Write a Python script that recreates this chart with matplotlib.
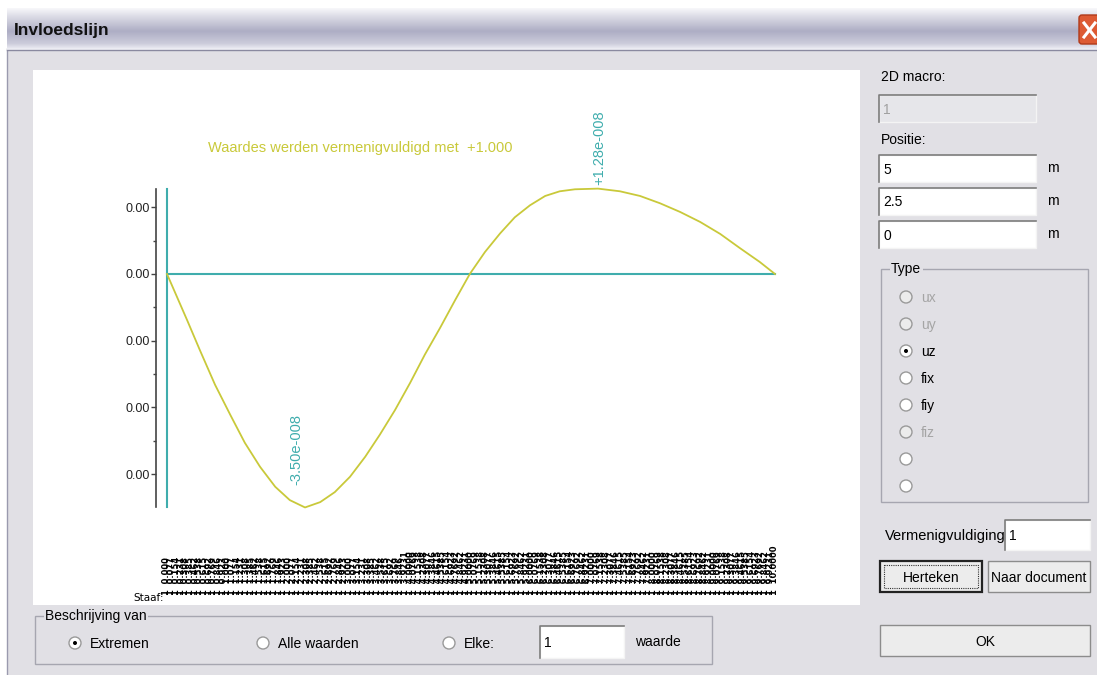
import numpy as np
import matplotlib.pyplot as plt
from matplotlib.patches import Rectangle, Circle, FancyBboxPatch
from matplotlib.ticker import FixedLocator, FuncFormatter

plt.rcParams['font.family'] = ['Liberation Sans', 'DejaVu Sans']

# influence line uz along the member: position (m) and value (x 1e-8)
beam_x = [0, 0.33, 0.54, 0.79, 1.04, 1.28, 1.53, 1.78, 2.02, 2.27, 2.52, 2.76, 3.01, 3.26,
          3.50, 3.75, 4.00, 4.24, 4.49, 4.74, 4.98, 5.23, 5.48, 5.72, 5.97, 6.22, 6.46, 6.71,
          7.09, 7.45, 7.78, 8.11, 8.44, 8.77, 9.10, 9.42, 9.75, 10.0]
uz_e8 = [0, -0.69, -1.14, -1.66, -2.11, -2.53, -2.89, -3.19, -3.39, -3.50, -3.42, -3.27,
         -3.04, -2.74, -2.41, -2.04, -1.63, -1.21, -0.81, -0.39, 0, 0.33, 0.61, 0.85, 1.03,
         1.17, 1.24, 1.27, 1.28, 1.24, 1.17, 1.06, 0.93, 0.78, 0.60, 0.39, 0.18, 0]
factor = 1.000
n_labels = 131      # station labels along the member
split_at = 51       # second block of labels is one character longer
staaf_nr = 1

positie = ['5', '2.5', '0']
type_options = ['ux', 'uy', 'uz', 'fix', 'fiy', 'fiz', '', '']
type_enabled = [False, False, True, True, True, False, True, True]
type_checked = 'uz'
beschrijving = ['Extremen', 'Alle waarden', 'Elke:']

W, H = 1097, 675
BG = '#e1e0e5'
CURVE = '#c9c93a'
CYAN = '#3fadad'
GUI_FS = 10

uz = np.array(uz_e8) * 1e-8


def fmt_e(v):
    m, e = f"{v:+.2e}".split('e')
    return f"{m}e{int(e):+04d}"


fig = plt.figure(figsize=(W / 100, H / 100), dpi=100)
fig.patch.set_facecolor('white')
bg = fig.add_axes([0, 0, 1, 1])
bg.set_xlim(0, W)
bg.set_ylim(H, 0)
bg.axis('off')

# window body and title bar
bg.add_patch(Rectangle((7, 48), W, H, fc=BG, ec='#9a9aae', lw=1))
stops_y = [0, 0.2, 0.55, 0.85, 1]
stops_c = np.array([[0.97, 0.97, 0.98], [0.86, 0.86, 0.90], [0.68, 0.68, 0.77],
                    [0.80, 0.80, 0.86], [0.95, 0.95, 0.97]])
t = np.linspace(0, 1, 60)
grad = np.stack([np.interp(t, stops_y, stops_c[:, k]) for k in range(3)], axis=-1)[:, None, :]
bg.imshow(grad, extent=(7, W, 50, 8), aspect='auto', zorder=1)
bg.plot([7, W], [50, 50], color='#8a8aa0', lw=1, zorder=2)
bg.text(14, 30, 'Invloedslijn', fontsize=12.5, fontweight='bold', va='center',
        color='#111111', zorder=3)
bg.add_patch(FancyBboxPatch((1079, 15), 24, 29, boxstyle='round,pad=0,rounding_size=3',
                            fc='#dd5a33', ec='#b03a1a', lw=1, zorder=3))
bg.plot([1084, 1095], [23, 37], color='white', lw=2.2, zorder=4)
bg.plot([1084, 1095], [37, 23], color='white', lw=2.2, zorder=4)


def textbox(x0, y0, x1, y1, txt, enabled=True):
    bg.add_patch(Rectangle((x0, y0), x1 - x0, y1 - y0, fc='white' if enabled else '#e6e6ea',
                           ec='#f4f4f4', lw=1, zorder=5))
    bg.plot([x0, x0, x1], [y1, y0, y0], color='#7c7c7c', lw=1.2, zorder=6)
    bg.text(x0 + 4, (y0 + y1) / 2 + 1, txt, fontsize=GUI_FS, va='center',
            color='black' if enabled else '#a0a0a0', zorder=6)


def radio(cx, cy, label, checked=False, enabled=True):
    bg.add_patch(Circle((cx, cy), 6, fc='white' if enabled else '#ececec',
                        ec='#9a9a9a', lw=1, zorder=5))
    if checked:
        bg.add_patch(Circle((cx, cy), 2, fc='black', ec='none', zorder=6))
    if label:
        bg.text(cx + 15, cy + 1, label, fontsize=GUI_FS, va='center',
                color='black' if enabled else '#a5a5a5', zorder=6)


def button(x0, y0, x1, y1, txt, default=False, left=False):
    rect = Rectangle((x0, y0), x1 - x0, y1 - y0, fc='#ececec',
                     ec='#222222' if default else '#8c8c8c', lw=1.6 if default else 1, zorder=5)
    bg.add_patch(rect)
    if default:
        bg.add_patch(Rectangle((x0 + 4, y0 + 4), x1 - x0 - 8, y1 - y0 - 8, fc='none',
                               ec='#333333', lw=0.8, ls=(0, (1, 1)), zorder=6))
    tx = bg.text(x0 + 3 if left else (x0 + x1) / 2, (y0 + y1) / 2 + 1, txt, fontsize=GUI_FS,
                 va='center', ha='left' if left else 'center', color='black', zorder=7)
    tx.set_clip_path(rect)


def group(x0, y0, x1, y1, label):
    bg.add_patch(Rectangle((x0, y0), x1 - x0, y1 - y0, fc='none', ec='#a6a6b0', lw=1, zorder=4))
    bg.text(x0 + 10, y0, label, fontsize=GUI_FS, va='center', color='black', zorder=5,
            bbox=dict(fc=BG, ec='none', pad=1))


# right panel
bg.text(881, 77, '2D macro:', fontsize=GUI_FS, va='center')
textbox(879, 95, 1036, 122, '1', enabled=False)
bg.text(881, 140, 'Positie:', fontsize=GUI_FS, va='center')
for i, val in enumerate(positie):
    y0 = 155 + 33 * i
    textbox(879, y0, 1036, y0 + 27, val)
    bg.text(1047, y0 + 13, 'm', fontsize=GUI_FS, va='center')

group(881, 269, 1088, 502, 'Type')
for i, (opt, en) in enumerate(zip(type_options, type_enabled)):
    radio(906, 297 + 27 * i, opt, checked=(opt == type_checked), enabled=en)

bg.text(885, 536, 'Vermenigvuldiging', fontsize=10.5, va='center', zorder=4)
textbox(1005, 520, 1090, 550, '1')
button(880, 561, 982, 592, 'Herteken', default=True)
button(988, 561, 1090, 592, 'Naar document', left=True)
button(880, 625, 1090, 656, 'OK')

# bottom panel
group(35, 616, 712, 664, 'Beschrijving van')
for cx, lab in zip([75, 263, 449], beschrijving):
    radio(cx, 643, lab, checked=(lab == 'Extremen'))
textbox(540, 626, 624, 658, '1')
bg.text(635, 642, 'waarde', fontsize=GUI_FS, va='center')

# chart area: 60.8 px per m, 66.7 px per 1e-8, origin at pixel (167, 274)
x_of = lambda px: (px - 167) / 60.8
y_of = lambda py: (274 - py) / 66.7 * 1e-8
ax = fig.add_axes([33 / W, 1 - 605 / H, (860 - 33) / W, (605 - 70) / H])
ax.set_facecolor('white')
ax.set_xlim(x_of(33), x_of(860))
ax.set_ylim(y_of(605), y_of(70))
for s in ['bottom', 'right']:
    ax.spines[s].set_visible(False)
ax.spines['left'].set_position(('data', x_of(156)))
ax.spines['left'].set_bounds(uz.min(), uz.max())
ax.spines['left'].set_color('#444444')
ax.spines['left'].set_linewidth(1.2)
ax.spines['top'].set_position(('data', y_of(595)))
ax.spines['top'].set_visible(False)

ax.yaxis.set_major_locator(FixedLocator(np.arange(-3, 2) * 1e-8))
ax.yaxis.set_minor_locator(FixedLocator(np.arange(-2.5, 1, 1) * 1e-8))
ax.yaxis.set_major_formatter(FuncFormatter(lambda v, _: f"{abs(v):.2f}"))
ax.tick_params(axis='y', which='major', length=3.6, width=1, color='#444444',
               pad=0.8, labelsize=9, labelcolor='#222222')
ax.tick_params(axis='y', which='minor', length=2.2, width=1, color='#444444')

tick_pos = np.linspace(beam_x[0], beam_x[-1], n_labels)
tick_txt = [f"{staaf_nr}  {p:.3f}" if i < split_at else f"{staaf_nr}  {p:.4f}"
            for i, p in enumerate(tick_pos)]
ax.xaxis.set_ticks_position('top')
ax.set_xticks(tick_pos)
ax.set_xticklabels(tick_txt, family='DejaVu Sans', fontweight='bold')
ax.tick_params(axis='x', length=0, pad=0, labelsize=6, labelrotation=90, labelcolor='black')
ax.text(x_of(133), y_of(598), 'Staaf:', fontsize=7.5, va='center', family='DejaVu Sans')

ax.plot([beam_x[0], beam_x[0]], [uz.min(), uz.max()], color=CYAN, lw=1.5)
ax.plot([beam_x[0], beam_x[-1]], [0, 0], color=CYAN, lw=1.5)
ax.plot(beam_x, uz, color=CURVE, lw=1.3)

i_min, i_max = int(np.argmin(uz)), int(np.argmax(uz))
ax.annotate(fmt_e(uz[i_min]), (beam_x[i_min], uz[i_min]), xytext=(-9, 22),
            textcoords='offset pixels', rotation=90, ha='center', va='bottom',
            color=CYAN, fontsize=10.5)
ax.annotate(fmt_e(uz[i_max]), (beam_x[i_max], uz[i_max]), xytext=(1, 4),
            textcoords='offset pixels', rotation=90, ha='center', va='bottom',
            color=CYAN, fontsize=10.5)
ax.text((208 - 33) / 827, (605 - 148) / 535,
        f"Waardes werden vermenigvuldigd met  {factor:+.3f}",
        transform=ax.transAxes, fontsize=10.5, va='center', color=CURVE)

fig.savefig('out.png', dpi=100, facecolor=fig.get_facecolor())
